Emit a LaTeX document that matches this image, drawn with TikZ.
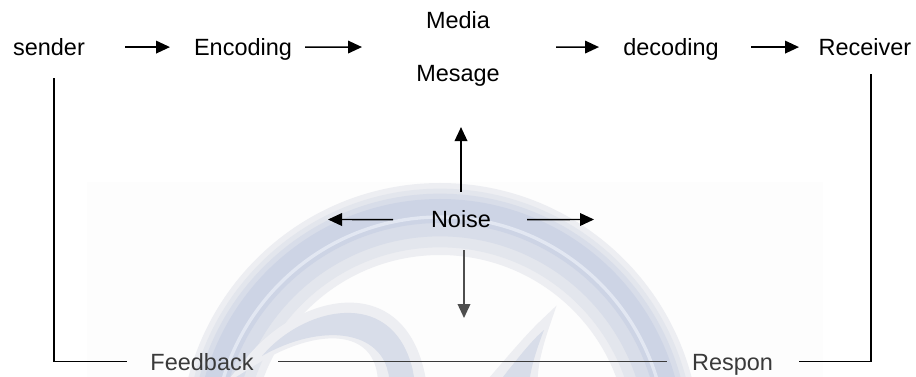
\documentclass[tikz,border=0pt]{standalone}
\usepackage{fontspec}
\setmainfont{Liberation Sans}
\usetikzlibrary{arrows.meta,calc}
\definecolor{swooshhaze}{RGB}{237,238,242}
\definecolor{swooshsoft}{RGB}{227,230,237}
\definecolor{swooshmid}{RGB}{216,221,233}
\definecolor{swoosh}{RGB}{205,212,229}
\definecolor{swooshlight}{RGB}{226,231,242}
\definecolor{fadedink}{RGB}{58,58,58}
\begin{document}
\begin{tikzpicture}[x=0.75pt,y=-0.75pt,
  lbl/.style={inner sep=0pt, anchor=base, font=\fontsize{17.6}{21}\selectfont,
              text height=15.8pt, text depth=3.2pt},
  arr/.style={-{Triangle[length=10.5pt,width=9.5pt]}, line width=1.1pt},
  link/.style={line width=1.1pt}]
\useasboundingbox (0,0) rectangle (916,377);
\fill[white] (0,0) rectangle (916,377);

% faint swoosh emblem behind the noise area
\begin{scope}
  \clip (87,182) rectangle (823,377);
  \fill[gray!1.5] (87,182) rectangle (823,377);
  % soft ring, built up in layers
  \draw[swooshhaze, line width=54pt] (440,443) circle [radius=224];
  \draw[swooshsoft, line width=44pt] (440,443) circle [radius=225];
  \draw[swooshmid, line width=32pt] (440,443) circle [radius=228];
  \draw[swoosh, line width=18pt] (440,443) circle [radius=232];
  \draw[swooshlight, line width=2.5pt] (440,443) circle [radius=226];
  % inner hook
  \path[draw=swooshhaze, line width=8pt, fill=swooshsoft]
    (250,362) .. controls (300,300) and (400,275) .. (420,377)
    -- (383,377) .. controls (378,325) and (320,318) .. cycle;
  \path[fill=swooshmid]
    (262,356) .. controls (305,305) and (398,285) .. (414,377)
    -- (389,377) .. controls (383,330) and (322,322) .. cycle;
  % spike
  \path[draw=swooshhaze, line width=7pt, fill=swooshsoft]
    (546,322) .. controls (538,345) and (534,362) .. (533,377)
    -- (496,377) .. controls (515,355) and (532,335) .. cycle;
  \path[fill=swooshmid]
    (544,330) .. controls (537,348) and (532,364) .. (530,377)
    -- (503,377) .. controls (518,358) and (532,340) .. cycle;
\end{scope}

% stages of the message
\node[lbl] (sender)   at (49,55.5)  {sender};
\node[lbl] (enc)      at (243,55.5) {Encoding};
\node[lbl] (media)    at (458,29)   {Media};
\node[lbl] (mesage)   at (458,82)   {Mesage};
\coordinate (medium)  at (458,47);
\node[lbl] (dec)      at (671,55.5) {decoding};
\node[lbl] (recv)     at (865,55.5) {Receiver};
\node[lbl] (noise)    at (461,228)  {Noise};
\node[lbl, text=fadedink] (feedback) at (202,370) {Feedback};
\node[lbl, text=fadedink] (respon)   at (732.5,370) {Respon};

% forward chain
\draw[arr, shorten <=57pt,   shorten >=54.75pt] (sender.center) -- (enc.center);
\draw[arr, shorten <=46.5pt, shorten >=72pt]    (enc.center) -- (medium);
\draw[arr, shorten <=73.5pt, shorten >=54pt]    (medium) -- (dec.center);
\draw[arr, shorten <=60pt,   shorten >=49.5pt]  (dec.center) -- (recv.center);

% noise spreading out
\coordinate (noiseL) at (328,219.5);
\coordinate (noiseR) at (594,219.5);
\coordinate (noiseD) at (464,318);
\draw[arr, shorten <=20.6pt, shorten >=40.1pt] (noise.center) -- (noise.center |- mesage.center);
\draw[arr, shorten <=51pt] (noise.center) -- (noiseL);
\draw[arr, shorten <=49.5pt] (noise.center) -- (noiseR);
\draw[arr, draw=fadedink!90, fill=fadedink!90, shorten <=22.9pt] (noise.center -| noiseD) -- (noiseD);

% feedback loop
\draw[link] ($(sender.center)+(5,31)$) |- ($(feedback.center)+(-75,0)$);
\draw[link, fadedink] ($(feedback.center)+(76,0)$) -- ($(respon.center)+(-65.5,0)$);
\draw[link] ($(respon.center)+(66.5,0)$) -| ($(recv.center)+(6,27)$);
\end{tikzpicture}
\end{document}
